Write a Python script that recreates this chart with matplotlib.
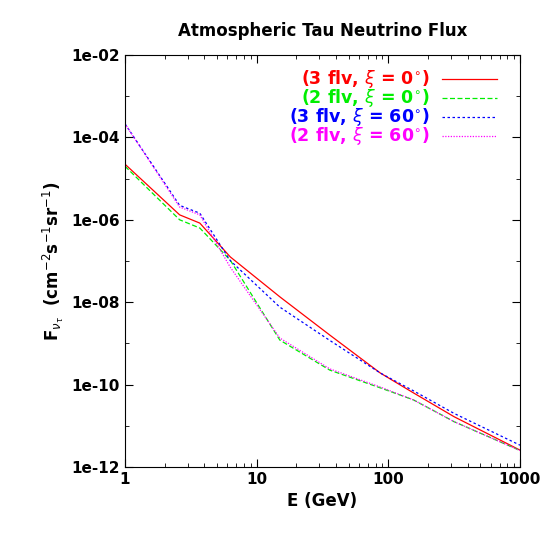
import numpy as np
import matplotlib
matplotlib.use("Agg")
import matplotlib.pyplot as plt
from matplotlib.ticker import FixedLocator, NullFormatter

E = [1, 2.6, 3.7, 6.3, 15, 36, 87, 155, 316, 1000]
red =     [-4.65, -5.88, -6.08, -6.9, -7.87, -8.8, -9.72, -10.2, -10.78, -11.59]
green =   [-4.7, -6.0, -6.2, -6.98, -8.92, -9.65, -10.08, -10.37, -10.9, -11.6]
blue =    [-3.67, -5.65, -5.84, -6.99, -8.12, -8.93, -9.72, -10.15, -10.7, -11.47]
magenta = [-3.67, -5.69, -5.88, -7.15, -8.87, -9.62, -10.06, -10.37, -10.9, -11.6]

labels = [r"(3 flv, $\xi$ = 0$^{\circ}$)", r"(2 flv, $\xi$ = 0$^{\circ}$)",
          r"(3 flv, $\xi$ = 60$^{\circ}$)", r"(2 flv, $\xi$ = 60$^{\circ}$)"]
colors = ["#ff0000", "#00ee00", "#0000ff", "#ff00ff"]
styles = ["-", (0, (4, 2)), (0, (2, 2)), (0, (1, 1.2))]

W, H = 554, 553
fig = plt.figure(figsize=(W/100, H/100), dpi=100)
ax = fig.add_axes([125/W, 1-467/H, (520-125)/W, (467-55)/H])
for ys, c, ls in zip([red, green, blue, magenta], colors, styles):
    ax.plot(E, 10**np.array(ys), color=c, ls=ls, lw=0.9)
ax.set_xscale("log"); ax.set_yscale("log")
ax.set_xlim(1, 1000); ax.set_ylim(1e-12, 1e-2)
ax.set_yticks([1e-12, 1e-10, 1e-8, 1e-6, 1e-4, 1e-2])
ax.set_yticklabels(["1e-12", "1e-10", "1e-08", "1e-06", "1e-04", "1e-02"])
ax.yaxis.set_minor_locator(FixedLocator([1e-11, 1e-9, 1e-7, 1e-5, 1e-3]))
ax.yaxis.set_minor_formatter(NullFormatter())
ax.set_xticks([1, 10, 100, 1000]); ax.set_xticklabels(["1", "10", "100", "1000"])
ax.tick_params(which="both", direction="in", top=True, right=True, labelsize=11)
ax.tick_params(which="major", length=6)
ax.tick_params(which="minor", length=3)
for t in ax.get_xticklabels() + ax.get_yticklabels():
    t.set_fontweight("bold")
ax.set_xlabel("E (GeV)", fontsize=12, fontweight="bold")
ax.set_ylabel(r"F$_{\nu_\tau}$  (cm$^{-2}$s$^{-1}$sr$^{-1}$)", fontsize=12, fontweight="bold")
ax.set_title("Atmospheric Tau Neutrino Flux", fontsize=12, fontweight="bold", pad=14)
for i, (lab, c, ls) in enumerate(zip(labels, colors, styles)):
    ypx = 79 + i*19
    yy = (467 - ypx) / (467 - 55)
    ax.text((430-125)/395, yy, lab, color=c, fontsize=12.5, fontweight="bold",
            ha="right", va="center", transform=ax.transAxes)
    ax.plot([(442-125)/395, (497-125)/395], [yy, yy], color=c, ls=ls, lw=0.9,
            transform=ax.transAxes)
fig.savefig("out.png", dpi=100)
